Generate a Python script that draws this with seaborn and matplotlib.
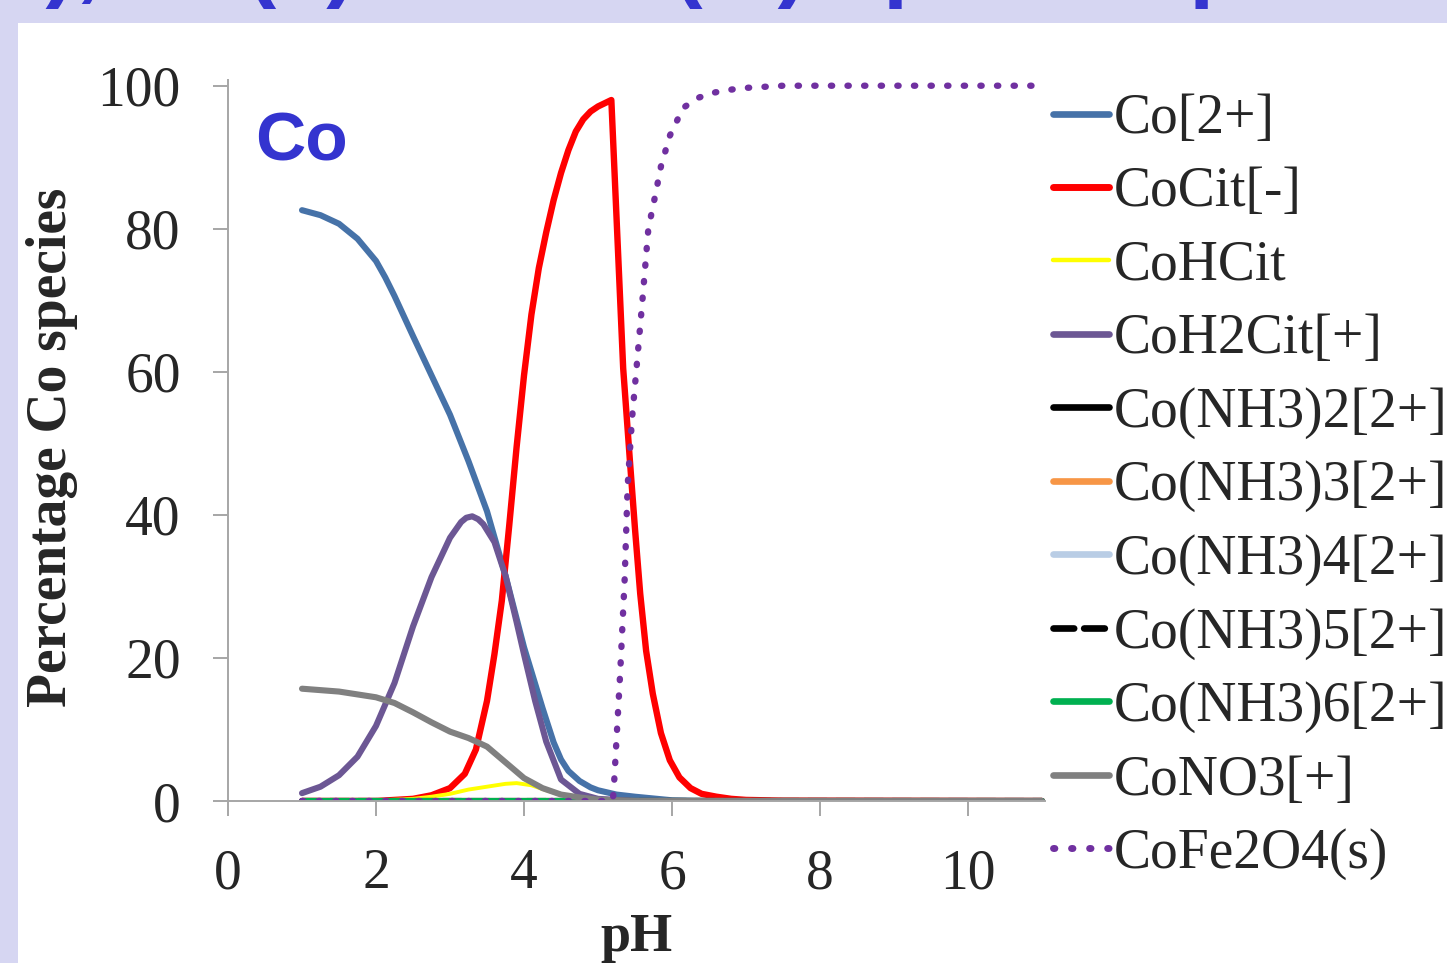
import matplotlib
matplotlib.use("Agg")
import matplotlib.pyplot as plt
from matplotlib.patches import Rectangle
from matplotlib.lines import Line2D
import seaborn as sns

sns.set_theme(style="white")
plt.rcParams['font.family'] = ['Liberation Serif', 'DejaVu Serif']

# ---- data (pH vs percentage of Co species) ----
co2_ph = [1, 1.25, 1.5, 1.75, 2, 2.125, 2.25, 2.5, 2.75, 3, 3.25, 3.5, 3.75, 4, 4.25, 4.4, 4.5, 4.6,
          4.75, 4.9, 5, 5.25, 5.5, 6, 6.5, 7, 11]
co2_pct = [82.6, 81.9, 80.7, 78.6, 75.5, 73.2, 70.6, 65, 59.5, 54, 47.5, 40.5, 31.5, 21.5, 13, 8.2, 5.8, 4.2,
           2.8, 1.9, 1.5, 0.9, 0.6, 0.1, 0, 0, 0]

cocit_ph = [1, 2, 2.5, 2.75, 3, 3.2, 3.35, 3.5, 3.6, 3.7, 3.8, 3.9, 4.0, 4.1, 4.2, 4.3, 4.4, 4.5, 4.6,
            4.7, 4.8, 4.9, 5.0, 5.1, 5.18,
            5.34, 5.43, 5.5, 5.57, 5.65, 5.74, 5.85, 5.97, 6.1, 6.25, 6.4, 6.6, 6.8, 7, 7.5, 11]
cocit_pct = [0, 0, 0.3, 0.8, 1.8, 3.8, 7.2, 14, 20.5, 28, 38.5, 49.5, 59.5, 68, 74.5, 79.5, 84, 87.8, 91,
             93.6, 95.3, 96.4, 97.1, 97.6, 98,
             60.5, 47.7, 38, 29, 21, 15, 9.5, 5.7, 3.3, 1.8, 1.0, 0.6, 0.3, 0.15, 0.05, 0]

cohcit_ph = [1, 2, 2.5, 2.75, 3, 3.25, 3.5, 3.75, 3.9, 4.1, 4.3, 4.5, 4.75, 5, 5.5, 11]
cohcit_pct = [0, 0.05, 0.3, 0.6, 1.0, 1.6, 2.0, 2.4, 2.5, 2.2, 1.5, 0.9, 0.4, 0.15, 0, 0]

coh2cit_ph = [1, 1.25, 1.5, 1.75, 2, 2.25, 2.5, 2.75, 3, 3.15, 3.22, 3.3, 3.38, 3.45, 3.6, 3.75, 3.9, 4,
              4.15, 4.3, 4.5, 4.75, 5, 5.5, 11]
coh2cit_pct = [1.1, 2.0, 3.6, 6.2, 10.5, 16.5, 24.4, 31.3, 36.8, 39.0, 39.6, 39.8, 39.4, 38.7, 36.2, 31.5, 25, 20.5,
               14, 8.3, 3.0, 1.0, 0.3, 0, 0]

nh3_ph = [1, 11]
nh3_pct = [0, 0]

cono3_ph = [1, 1.5, 2, 2.25, 2.5, 2.75, 3, 3.25, 3.5, 3.75, 4, 4.25, 4.5, 4.75, 5, 5.5, 11]
cono3_pct = [15.7, 15.3, 14.5, 13.7, 12.4, 11.0, 9.7, 8.8, 7.6, 5.4, 3.2, 1.8, 0.9, 0.5, 0.2, 0, 0]

cofe_ph = [1, 5.2, 5.22, 5.3, 5.36, 5.4, 5.46, 5.52, 5.6, 5.68, 5.77, 5.85, 5.97, 6.15, 6.35, 6.55, 6.75, 7, 7.5, 11]
cofe_pct = [0, 0, 3, 18, 31, 44, 53.5, 60.5, 70, 80, 84.5, 88.7, 93, 96.9, 98.3, 99, 99.4, 99.7, 100, 100]

labels = ["Co[2+]", "CoCit[-]", "CoHCit", "CoH2Cit[+]", "Co(NH3)2[2+]", "Co(NH3)3[2+]",
          "Co(NH3)4[2+]", "Co(NH3)5[2+]", "Co(NH3)6[2+]", "CoNO3[+]", "CoFe2O4(s)"]

series = [
    (co2_ph, co2_pct, "#4672A8", 4.4, "-"),
    (cocit_ph, cocit_pct, "#FF0000", 4.6, "-"),
    (cohcit_ph, cohcit_pct, "#FFFF00", 2.8, "-"),
    (coh2cit_ph, coh2cit_pct, "#6C5794", 4.4, "-"),
    (nh3_ph, nh3_pct, "#000000", 4.4, "-"),
    (nh3_ph, nh3_pct, "#F79646", 4.4, "-"),
    (nh3_ph, nh3_pct, "#B9CDE5", 4.4, "-"),
    (nh3_ph, nh3_pct, "#000000", 4.4, (0, (3.1, 1.5))),
    (nh3_ph, nh3_pct, "#00B050", 4.4, "-"),
    (cono3_ph, cono3_pct, "#808080", 4.4, "-"),
    (cofe_ph, cofe_pct, "#7030A0", 4.6, (0, (0.2, 2.4))),
]

fig = plt.figure(figsize=(14.47, 9.63), dpi=100)
fig.patch.set_facecolor("#D6D6F2")
fig.patches.append(Rectangle((18 / 1447, 0), 1, 1 - 23 / 963, transform=fig.transFigure,
                             facecolor="white", edgecolor="none", zorder=-10))

# cut-off slide title along the top edge
fig.text(-165 / 1447, 1 + 10 / 963, "Fe(III), Co(II) and Fe(III) species present",
         family="Liberation Sans", weight="bold", fontsize=65, color="#3434CF",
         ha="left", va="baseline")

ax = fig.add_axes([228 / 1447, 162 / 963, 817 / 1447, 721 / 963])
ax.set_facecolor("none")

handles = []
for (xs, ys, col, lw, ls), lab in zip(series, labels):
    sns.lineplot(x=xs, y=ys, ax=ax, color=col, linewidth=lw, linestyle=ls,
                 sort=False, estimator=None, solid_capstyle="round", dash_capstyle="round",
                 solid_joinstyle="round")
    handles.append(Line2D([], [], color=col, linewidth=lw + 0.4, linestyle=ls,
                          solid_capstyle="round", dash_capstyle="round"))

ax.set_xlim(0, 11.04)
ax.set_ylim(0, 100.8)
ax.set_xticks(range(0, 11, 2))
ax.set_yticks(range(0, 101, 20))
sns.despine(ax=ax)
for s in ["left", "bottom"]:
    ax.spines[s].set_color("#A6A6A6")
    ax.spines[s].set_linewidth(1.4)
ax.tick_params(axis="both", direction="out", length=11, width=1.4, color="#A6A6A6",
               labelsize=40, pad=23, left=True, bottom=True)

ax.set_xlabel("pH", fontsize=39, weight="bold")
ax.xaxis.set_label_coords(0.5, -0.155)
ax.set_ylabel("Percentage Co species", fontsize=40, weight="bold")
ax.yaxis.set_label_coords(-0.184, 0.49)

ax.text(0.365, 89.6, "Co", family="Liberation Sans", weight="bold", fontsize=50,
        color="#3434CF", ha="left", va="baseline")

fig.legend(handles, labels, loc="upper left", bbox_to_anchor=(1053 / 1447, 1 - 93 / 963),
           frameon=False, fontsize=40, handlelength=1.0, handletextpad=0.1,
           labelspacing=0.385, borderpad=0, borderaxespad=0)

fig.savefig("out.png", dpi=100, facecolor=fig.get_facecolor())
